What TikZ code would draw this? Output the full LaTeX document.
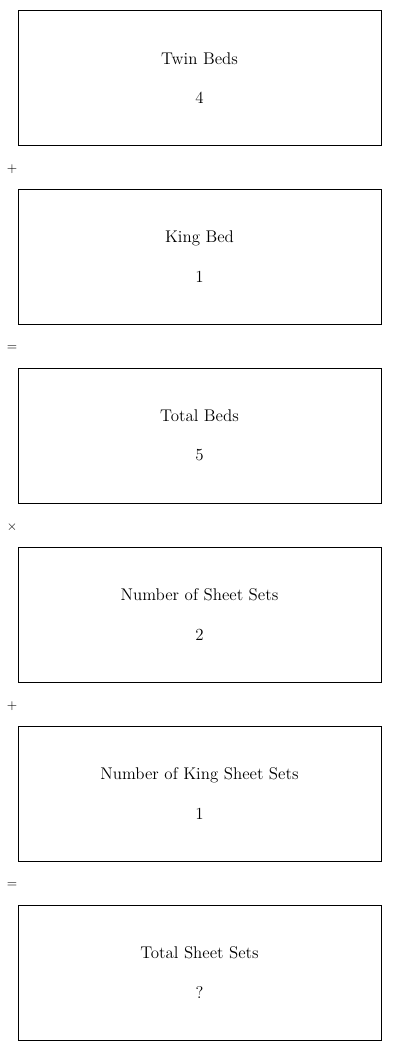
\documentclass[tikz,border=0pt]{standalone}
\usepackage{tikz}
\usetikzlibrary{positioning}

\begin{document}
\begin{tikzpicture}[x=0.75pt, y=-0.75pt]

        % --- Styles ---
        \tikzset{
            valbox/.style={draw=black, line width=0.75pt, minimum width=272.25pt, minimum height=101.25pt, align=center, font=\fontsize{12.7}{15}\selectfont, inner sep=0pt},
            opsign/.style={font=\sffamily\normalsize, inner sep=0pt}
        }

        % --- Cadre ---
        \useasboundingbox (0,0) rectangle (400,1051);

        % --- Boites ---
        \node[valbox] (twin) at (199.5,78) {Twin Beds\\[14.5pt]4};
        \node[valbox] (king) at (199.5,256.5) {King Bed\\[14.5pt]1};
        \node[valbox] (total) at (199.5,435.5) {Total Beds\\[14.5pt]5};
        \node[valbox] (sets) at (199.5,614.5) {Number of Sheet Sets\\[14.5pt]2};
        \node[valbox] (kingsets) at (199.5,793.5) {Number of King Sheet Sets\\[14.5pt]1};
        \node[valbox] (result) at (199.5,972.5) {Total Sheet Sets\\[14.5pt]?};

        % --- Operateurs ---
        \node[opsign] (op1) at (12,169) {+};
        \node[opsign] (op2) at (12,348) {=};
        \node[opsign] (op3) at (12,527) {$\times$};
        \node[opsign] (op4) at (12,706) {+};
        \node[opsign] (op5) at (12,885) {=};

\end{tikzpicture}
\end{document}
